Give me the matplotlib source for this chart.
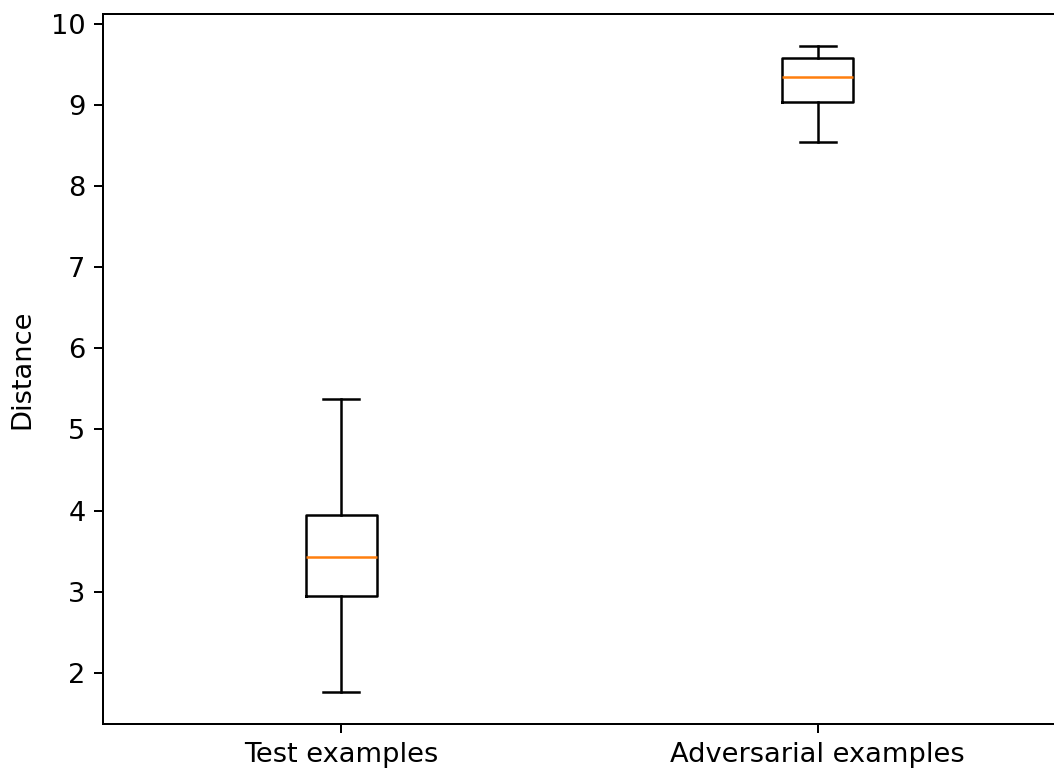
import matplotlib
matplotlib.use("Agg")
import matplotlib.pyplot as plt

labels = ["Test examples", "Adversarial examples"]
whislo = [1.77, 8.54]
q1 = [2.95, 9.03]
med = [3.43, 9.34]
q3 = [3.95, 9.58]
whishi = [5.37, 9.72]

stats = []
for i in range(len(labels)):
	stats.append({"label": labels[i], "whislo": whislo[i], "q1": q1[i], "med": med[i],
		"q3": q3[i], "whishi": whishi[i], "fliers": []})

plt.rcParams["font.size"] = 10.9
dpi = 180
fig = plt.figure(figsize=(1054 / dpi, 772 / dpi), dpi=dpi)
ax = fig.add_axes([103 / 1054, 48 / 772, 953 / 1054, 710 / 772])
ax.bxp(stats, widths=0.15)
ax.set_ylabel("Distance", labelpad=6)

fig.savefig("out.png", dpi=dpi)
